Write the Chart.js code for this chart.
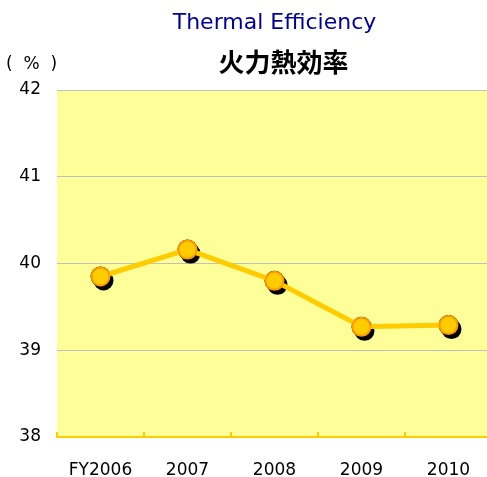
<!DOCTYPE html>
<html><head><meta charset="utf-8">
<script src="https://cdn.jsdelivr.net/npm/chart.js@4.4.1/dist/chart.umd.min.js"></script>
<style>html,body{margin:0;padding:0;background:#fff;overflow:hidden;width:487px;height:477px}#wrap{width:492px;height:477px}</style>
</head><body><div id="wrap"><canvas id="c" width="492" height="477"></canvas></div>
<script>
const categories = ["FY2006", "2007", "2008", "2009", "2010"];
const efficiency = [39.85, 40.16, 39.80, 39.27, 39.29];
const yTicks = [38, 39, 40, 41, 42];
const titleEn = "Thermal Efficiency";
const titleJa = "火力熱効率";
const unitLabel = "(  %  )";

const deco = {
  id: 'deco',
  beforeDraw(chart) {
    const {ctx, chartArea: a} = chart;
    ctx.save();
    ctx.fillStyle = '#FFFF99';
    ctx.fillRect(a.left, a.top, a.right - a.left, a.bottom - a.top);
    ctx.restore();
  },
  afterDraw(chart) {
    const {ctx, chartArea: a} = chart;
    const cx = (a.left + a.right) / 2;
    ctx.save();
    ctx.textAlign = 'center';
    ctx.textBaseline = 'alphabetic';
    ctx.fillStyle = '#000099';
    ctx.font = '22px "DejaVu Sans"';
    ctx.fillText(titleEn, cx, 29);
    ctx.fillStyle = '#000';
    ctx.font = 'bold 26px "Noto Sans CJK JP"';
    ctx.textBaseline = 'middle';
    ctx.fillText(titleJa, cx + 9, 62);
    ctx.font = '17px "DejaVu Sans"';
    ctx.textAlign = 'left';
    ctx.fillText(unitLabel, 6, 65);
    ctx.restore();
  },
  beforeDatasetDraw(chart, args) {
    if (args.index === 2) {
      const ctx = chart.ctx;
      ctx.save();
      ctx.shadowColor = '#000';
      ctx.shadowOffsetX = 3;
      ctx.shadowOffsetY = 4;
      ctx.shadowBlur = 0;
    }
  },
  afterDatasetDraw(chart, args) {
    if (args.index === 2) chart.ctx.restore();
  }
};

new Chart(document.getElementById('c'), {
  type: 'line',
  data: {
    labels: categories,
    datasets: [
      {
        data: efficiency, showLine: false, order: 0,
        pointRadius: 9, pointHoverRadius: 9, pointBorderWidth: 2,
        pointBackgroundColor: '#FFCC00', pointBorderColor: '#FF9900'
      },
      {
        data: efficiency, order: 1, pointRadius: 0,
        borderColor: '#FFCC00', borderWidth: 5, tension: 0
      },
      {
        data: efficiency, showLine: false, order: 2,
        pointRadius: 10, pointHoverRadius: 10, pointBorderWidth: 0,
        pointBackgroundColor: '#000', pointBorderColor: '#000'
      }
    ]
  },
  options: {
    responsive: false, animation: false,
    layout: { autoPadding: false, padding: { top: 90, right: 0, left: 0, bottom: 0 } },
    plugins: { legend: { display: false }, tooltip: { enabled: false } },
    scales: {
      x: {
        offset: true,
        grid: { offset: true, drawOnChartArea: false, drawTicks: true, tickLength: -5, color: '#FFCC00', lineWidth: 2 },
        border: { display: true, color: '#FFCC00', width: 2 },
        ticks: { color: '#000', font: { family: 'DejaVu Sans', size: 17 }, padding: 28, maxRotation: 0 },
        afterFit(s) { s.height = 40; s.paddingLeft = 0; s.paddingRight = 0; }
      },
      y: {
        min: 38, max: 42,
        afterBuildTicks(s) { s.ticks = yTicks.map(v => ({ value: v })); },
        grid: { drawTicks: false, color: (c) => c.tick && c.tick.value === 38 ? 'rgba(0,0,0,0)' : '#C0C0C0', lineWidth: 1 },
        border: { display: false },
        ticks: { color: '#000', font: { family: 'DejaVu Sans', size: 17 }, padding: 16 },
        afterFit(s) { s.width = 57; s.paddingTop = 0; s.paddingBottom = 0; }
      }
    }
  },
  plugins: [deco]
});
</script>
</body></html>
